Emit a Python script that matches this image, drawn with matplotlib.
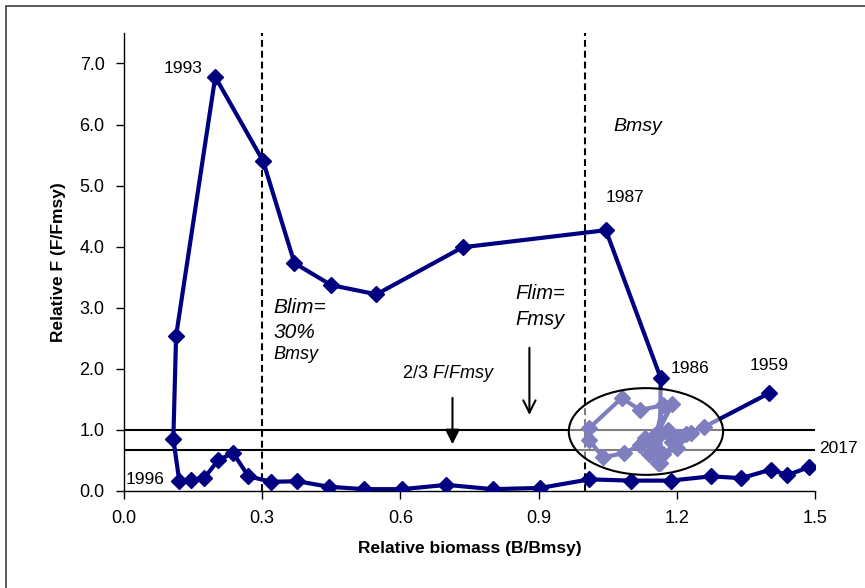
import matplotlib
matplotlib.use("Agg")
import matplotlib.pyplot as plt
from matplotlib.patches import Ellipse, Rectangle

plt.rcParams['font.family'] = ['Liberation Sans', 'DejaVu Sans']
plt.rcParams['mathtext.fontset'] = 'custom'
plt.rcParams['mathtext.it'] = 'Liberation Sans:italic'
plt.rcParams['mathtext.rm'] = 'Liberation Sans'

# relative biomass (B/Bmsy) and relative F (F/Fmsy), 1959 -> 2017
rel_b = [1.40, 1.26, 1.22, 1.19, 1.16, 1.19, 1.15, 1.13, 1.12, 1.085, 1.04,
         1.01, 1.01, 1.08, 1.12, 1.17, 1.15, 1.18, 1.14, 1.16, 1.20, 1.18,
         1.23, 1.20, 1.17, 1.16, 1.163,
         1.165, 1.046, 0.735, 0.548, 0.45, 0.37, 0.302, 0.198, 0.113, 0.107, 0.12,
         0.146, 0.174, 0.205, 0.237, 0.27, 0.32, 0.376, 0.444, 0.52, 0.604,
         0.70, 0.80, 0.904, 1.01, 1.10, 1.187, 1.274, 1.34, 1.404, 1.44, 1.487]
rel_f = [1.60, 1.05, 0.93, 0.80, 0.97, 1.42, 0.90, 0.87, 0.75, 0.62, 0.55,
         0.83, 1.03, 1.52, 1.33, 1.40, 0.75, 0.95, 0.60, 0.45, 0.85, 1.00,
         0.95, 0.70, 0.60, 0.90, 0.45,
         1.85, 4.27, 3.99, 3.22, 3.37, 3.73, 5.40, 6.78, 2.54, 0.85, 0.16,
         0.18, 0.21, 0.51, 0.62, 0.24, 0.15, 0.16, 0.07, 0.03, 0.03,
         0.10, 0.03, 0.05, 0.19, 0.17, 0.17, 0.24, 0.21, 0.35, 0.26, 0.39]

x_ticks = [0.0, 0.3, 0.6, 0.9, 1.2, 1.5]
y_ticks = [0, 1, 2, 3, 4, 5, 6, 7]
f_lines = [1.0, 2 / 3]
b_lines = [0.3, 1.0]

fig = plt.figure(figsize=(8.65, 5.88), dpi=100)
ax = fig.add_axes([0.1434, 0.165, 0.7988, 0.779])

for f in f_lines:
    ax.axhline(f, color='black', lw=1.5, zorder=2)
for b in b_lines:
    ax.axvline(b, color='black', lw=1.5, ls=(0, (3.3, 1.9)), zorder=2)

ax.plot(rel_b, rel_f, color='#000080', lw=3, marker='D', markersize=8.5, zorder=3)

# ellipse around the 1959-1985 cluster, washes out what is under it
ax.add_patch(Ellipse((1.133, 0.974), 0.335, 1.42, facecolor='white', alpha=0.5,
                     edgecolor='none', zorder=4))
ax.add_patch(Ellipse((1.133, 0.974), 0.335, 1.42, facecolor='none',
                     edgecolor='black', lw=1.5, zorder=5))

ax.annotate('', xy=(0.713, 0.72), xytext=(0.713, 1.57),
            arrowprops=dict(arrowstyle='-|>', color='black', lw=1.5, mutation_scale=22))
ax.annotate('', xy=(0.88, 1.2), xytext=(0.88, 2.39),
            arrowprops=dict(arrowstyle='->', color='black', lw=1.5, mutation_scale=22))

ys = 12.5
ax.text(0.17, 6.92, '1993', fontsize=ys, ha='right', va='center')
ax.text(1.046, 4.81, '1987', fontsize=ys, ha='left', va='center')
ax.text(1.187, 2.01, '1986', fontsize=ys, ha='left', va='center')
ax.text(1.357, 2.06, '1959', fontsize=ys, ha='left', va='center')
ax.text(0.004, 0.18, '1996', fontsize=ys, ha='left', va='center')
ax.text(1.509, 0.70, '2017', fontsize=ys, ha='left', va='center')

ax.text(1.063, 5.96, 'Bmsy', fontsize=14, style='italic', ha='left', va='center')
ax.text(0.324, 3.0, 'Blim=', fontsize=15, style='italic', ha='left', va='center')
ax.text(0.324, 2.6, '30%', fontsize=15, style='italic', ha='left', va='center')
ax.text(0.324, 2.23, 'Bmsy', fontsize=13, style='italic', ha='left', va='center')
ax.text(0.85, 3.24, 'Flim=', fontsize=14.5, style='italic', ha='left', va='center')
ax.text(0.85, 2.80, 'Fmsy', fontsize=14.5, style='italic', ha='left', va='center')
ax.text(0.705, 1.93, r'2/3 $\it{F/Fmsy}$', fontsize=13, ha='center', va='center')

ax.set_xlim(0, 1.5)
ax.set_ylim(0, 7.5)
ax.set_xticks(x_ticks)
ax.set_xticklabels(['%.1f' % v for v in x_ticks])
ax.set_yticks(y_ticks)
ax.set_yticklabels(['%.1f' % v for v in y_ticks])
ax.tick_params(labelsize=13, direction='out', length=6, width=1, pad=8)
for s in ['top', 'right']:
    ax.spines[s].set_visible(False)
for s in ['left', 'bottom']:
    ax.spines[s].set_linewidth(1)
ax.set_xlabel('Relative biomass (B/Bmsy)', fontsize=12.5, fontweight='bold', labelpad=10)
ax.set_ylabel('Relative F (F/Fmsy)', fontsize=12.5, fontweight='bold', labelpad=10)

fig.patches.append(Rectangle((6 / 865, -0.1), 1.2, 1.1 - 6 / 588, transform=fig.transFigure,
                             fill=False, edgecolor='#404040', lw=1.2))

fig.savefig('out.png', dpi=100)
